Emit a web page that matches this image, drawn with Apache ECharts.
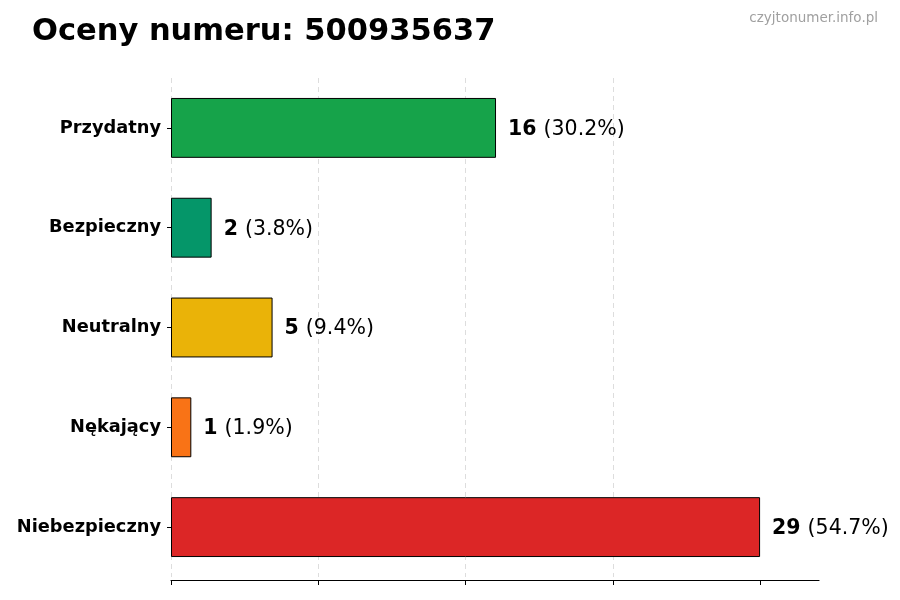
<!DOCTYPE html>
<html>
<head>
<meta charset="utf-8">
<script src="https://cdn.jsdelivr.net/npm/echarts@6/dist/echarts.min.js"></script>
<style>
  html,body{margin:0;padding:0;background:#fff;}
  #chart{width:900px;height:600px;}
</style>
</head>
<body>
<div id="chart"></div>
<script>
// dane wykresu (od góry do dołu)
var categories = ['Przydatny', 'Bezpieczny', 'Neutralny', 'Nękający', 'Niebezpieczny'];
var counts = [16, 2, 5, 1, 29];
var percents = ['30.2%', '3.8%', '9.4%', '1.9%', '54.7%'];
var colors = ['#16a34a', '#059669', '#eab308', '#f97316', '#dc2626'];

var maxVal = Math.max.apply(null, counts);
var font = 'DejaVu Sans';

// podziałki osi x: 0 .. max w czterech krokach
var xTicks = [0, 1, 2, 3, 4].map(function (k) { return maxVal * k / 4; });

var chart = echarts.init(document.getElementById('chart'));

var seriesData = counts.map(function (v, i) {
    return {
        value: v,
        itemStyle: { color: colors[i] }
    };
});

var option = {
    backgroundColor: '#ffffff',
    animation: false,
    title: [
        {
            text: 'Oceny numeru: 500935637',
            left: 27,
            top: 12,
            textStyle: { fontFamily: font, fontSize: 30.5, fontWeight: 'bold', color: '#000' }
        },
        {
            text: 'czyjtonumer.info.pl',
            right: 17,
            top: 6,
            textStyle: { fontFamily: font, fontSize: 13.5, fontWeight: 'normal', color: '#a0a0a0' }
        }
    ],
    grid: { left: 171, right: 81, top: 78, bottom: 23, containLabel: false },
    xAxis: {
        type: 'value',
        min: 0,
        max: maxVal * 1.1,
        interval: maxVal / 4,
        offset: 3,
        axisLine: { show: true, lineStyle: { color: '#000', width: 1.2 } },
        axisTick: { show: true, length: 5, customValues: xTicks, lineStyle: { color: '#000' } },
        axisLabel: { show: false },
        splitLine: { show: true, showMaxLine: false, lineStyle: { color: '#d4d4d4', type: [5, 4], width: 0.8 } }
    },
    yAxis: {
        type: 'category',
        inverse: true,
        data: categories,
        axisLine: { show: false },
        axisTick: { show: true, alignWithLabel: true, length: 4, lineStyle: { color: '#000' } },
        axisLabel: {
            fontFamily: font, fontSize: 17.8, fontWeight: 'bold', color: '#000', margin: 10,
            padding: [3, 0, 0, 0]
        }
    },
    series: [{
        type: 'bar',
        data: seriesData,
        barWidth: '60%',
        itemStyle: { borderColor: '#000', borderWidth: 1 },
        label: {
            show: true,
            position: 'right',
            distance: 12,
            padding: [3, 0, 0, 0],
            formatter: function (p) {
                return '{b|' + counts[p.dataIndex] + '}{s| }{n|(' + percents[p.dataIndex] + ')}';
            },
            rich: {
                b: { fontFamily: font, fontSize: 20.5, fontWeight: 'bold', color: '#000' },
                s: { fontFamily: font, fontSize: 20.5, width: 7 },
                n: { fontFamily: font, fontSize: 20.5, fontWeight: 'normal', color: '#000' }
            }
        }
    }]
};

chart.setOption(option);
</script>
</body>
</html>
